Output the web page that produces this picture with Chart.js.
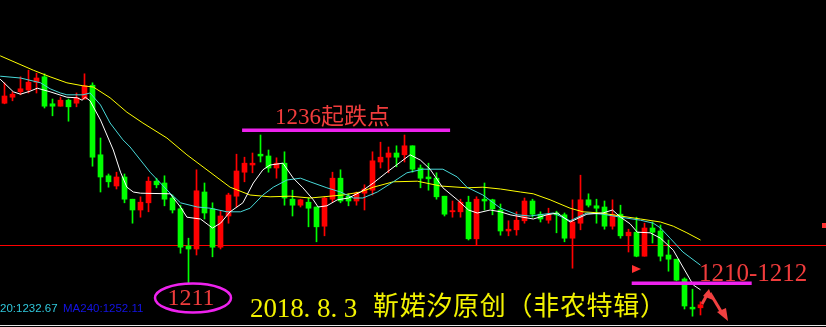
<!DOCTYPE html>
<html>
<head>
<meta charset="utf-8">
<script src="https://cdn.jsdelivr.net/npm/chart.js@4"></script>
<style>
  html, body { margin: 0; padding: 0; background: #000; }
  canvas { display: block; }
</style>
</head>
<body>
<canvas id="kline" width="826" height="327"></canvas>
<script>
    // candles, oldest first (red = up, green = down)
    const opens = [1240.8,1241.8,1242.7,1243.0,1244.3,1245.2,1240.7,1240.3,1241.3,1240.8,
      1241.5,1243.8,1232.2,1228.7,1227.0,1228.5,1224.8,1223.0,1224.2,1227.8,
      1227.5,1225.0,1223.2,1217.0,1216.5,1226.0,1223.2,1216.8,1222.0,1225.3,
      1229.3,1230.5,1232.3,1232.0,1230.0,1230.8,1224.8,1223.8,1224.3,1223.5,
      1220.3,1224.8,1228.3,1225.3,1224.5,1225.8,1226.3,1231.0,1231.8,1232.5,
      1232.2,1233.7,1230.0,1228.5,1228.3,1225.3,1222.7,1222.7,1224.3,1218.2,
      1224.8,1224.7,1223.0,1219.5,1219.7,1221.2,1224.5,1222.3,1221.3,1222.5,
      1222.2,1218.3,1220.8,1224.7,1223.7,1223.5,1220.3,1222.3,1218.7,1219.3,
      1215.3,1220.0,1219.5,1215.5,1214.8,1211.5,1206.8,1206.7];
    const highs = [1244.2,1242.7,1245.2,1246.3,1245.8,1245.7,1241.5,1241.8,1241.5,1242.5,
      1245.7,1244.2,1235.0,1229.0,1229.3,1229.0,1224.8,1225.2,1228.5,1228.3,
      1228.7,1225.5,1223.8,1218.3,1229.7,1227.5,1224.2,1222.8,1225.8,1232.3,
      1231.8,1232.5,1235.5,1233.0,1231.7,1232.7,1226.3,1224.8,1225.0,1223.5,
      1225.2,1229.3,1229.7,1225.7,1226.0,1227.2,1232.7,1234.3,1233.5,1233.7,
      1235.5,1233.7,1230.5,1230.8,1229.2,1225.3,1224.5,1224.8,1225.3,1225.2,
      1227.5,1224.8,1224.0,1221.2,1222.7,1225.0,1224.8,1222.7,1223.3,1222.8,
      1222.5,1224.7,1228.8,1225.7,1224.8,1224.5,1224.7,1223.8,1219.8,1221.8,
      1220.8,1221.0,1220.5,1218.0,1214.8,1211.7,1209.8,1207.7];
    const lows = [1240.7,1241.2,1242.2,1242.5,1242.5,1240.0,1238.7,1240.3,1237.8,1240.2,
      1241.5,1230.3,1226.0,1226.8,1226.5,1224.2,1220.8,1221.8,1222.7,1226.7,
      1223.7,1222.5,1215.8,1210.8,1215.5,1221.5,1215.2,1216.5,1220.8,1223.5,
      1227.7,1229.2,1231.0,1229.3,1228.3,1223.8,1222.0,1223.5,1220.2,1217.7,
      1218.7,1224.3,1224.2,1223.7,1223.8,1223.0,1225.5,1230.0,1229.2,1230.2,
      1231.0,1229.3,1226.7,1226.3,1224.8,1222.0,1221.8,1221.8,1218.0,1217.2,
      1223.0,1222.2,1218.8,1218.7,1218.8,1220.8,1221.8,1221.0,1220.8,1219.2,
      1217.7,1213.3,1219.7,1223.5,1220.8,1219.8,1219.8,1218.3,1216.0,1215.2,
      1215.3,1217.5,1214.5,1212.8,1211.2,1206.5,1205.3,1205.5];
    const closes = [1242.0,1242.3,1243.2,1244.3,1245.0,1240.3,1240.3,1241.3,1240.2,1241.7,
      1243.7,1231.8,1228.5,1227.7,1228.5,1224.8,1223.0,1224.3,1227.8,1227.2,
      1224.8,1223.0,1216.8,1216.5,1226.2,1222.5,1216.8,1222.0,1225.5,1229.5,
      1230.8,1230.8,1232.0,1230.0,1230.8,1225.0,1223.8,1224.7,1223.3,1220.2,
      1225.0,1228.3,1224.5,1224.5,1225.8,1226.5,1231.2,1231.8,1232.5,1231.8,
      1233.7,1229.8,1228.3,1228.2,1225.2,1222.3,1222.9,1224.3,1218.2,1224.8,
      1224.5,1223.2,1219.5,1219.8,1221.3,1224.5,1222.3,1221.5,1222.2,1222.2,
      1218.3,1221.0,1224.7,1223.8,1223.3,1220.3,1222.3,1218.7,1219.3,1215.3,
      1220.0,1219.3,1215.3,1214.8,1211.3,1207.0,1206.5,1207.2];

    // moving averages (position in candles, price)
    const maFastX = [-0.54,1.1,2.0,3.2,4.1,5.7,7.8,9.1,9.7,10.1,10.7,12.0,13.6,14.5,15.3,16.1,17.0,20.7,22.0,22.8,
      24.5,26.0,27.0,28.2,29.8,31.1,32.3,33.2,34.8,36.1,37.3,38.6,39.2,40.3,41.6,43.0,44.5,46.1,47.8,49.5,
      50.7,52.0,53.2,54.8,56.6,58.0,59.1,60.7,62.0,63.2,64.8,66.1,67.8,69.1,70.7,72.8,74.8,76.0,77.0,78.2,
      79.1,80.7,82.0,83.6,84.8,86.1,87.0];
    const maFastY = [1244.8,1242.7,1242.3,1242.8,1243.3,1242.7,1241.8,1241.7,1241.3,1241.8,1241.2,1238.0,1233.0,1229.3,1226.8,1226.0,1225.8,1225.7,1223.5,1221.8,
      1221.5,1220.0,1220.8,1222.7,1224.2,1227.5,1229.7,1230.5,1230.8,1228.3,1226.7,1224.7,1223.5,1223.7,1224.7,1225.0,1226.0,1227.5,1229.3,1231.0,
      1232.2,1231.3,1229.8,1226.7,1224.7,1223.0,1222.5,1223.0,1222.7,1222.2,1221.8,1221.5,1222.2,1222.5,1221.0,1222.3,1222.5,1223.0,1221.8,1220.7,
      1219.3,1219.2,1218.3,1216.3,1213.5,1210.5,1209.7];
    const maMidX = [-0.54,2.0,4.5,5.7,7.0,7.8,9.8,10.7,12.0,13.2,14.8,15.7,18.2,20.7,22.0,24.1,25.7,27.8,29.5,30.7,
      32.3,33.6,35.3,37.0,38.2,40.3,42.0,43.6,44.8,46.6,48.6,50.3,52.3,54.8,56.6,57.8,59.8,62.0,64.1,65.7,
      68.6,70.7,72.8,74.8,77.0,79.5,81.1,82.0,83.2,84.8,87.0];
    const maMidY = [1245.3,1245.0,1244.2,1243.2,1242.5,1242.2,1242.2,1242.5,1240.5,1237.5,1234.7,1233.5,1229.3,1225.8,1224.2,1223.5,1223.3,1222.7,1222.7,1223.3,
      1225.5,1226.8,1228.0,1228.3,1227.7,1226.7,1226.0,1225.0,1225.0,1226.0,1227.7,1229.2,1229.8,1229.8,1228.5,1226.8,1225.5,1223.3,1222.2,1222.0,
      1222.5,1221.2,1222.5,1222.3,1221.8,1221.3,1220.8,1220.0,1218.3,1216.0,1213.8];
    const maSlowX = [-0.54,3.6,5.7,7.8,9.8,11.1,13.2,15.3,17.3,20.3,22.8,25.7,28.2,30.7,33.2,35.7,38.2,42.3,44.5,46.1,
      48.6,51.6,54.5,57.8,59.8,62.0,64.5,66.1,68.2,70.7,72.3,74.5,77.0,79.5,82.0,83.6,85.3,87.0];
    const maSlowY = [1248.7,1246.3,1245.2,1244.2,1243.7,1243.5,1241.7,1239.3,1237.5,1235.0,1232.2,1229.3,1226.8,1225.5,1225.2,1225.3,1225.0,1225.5,1226.0,1226.8,
      1227.7,1227.8,1227.0,1226.7,1226.8,1226.5,1226.0,1225.7,1224.7,1223.3,1222.7,1222.5,1222.0,1221.5,1221.0,1220.3,1219.2,1218.0];

    // marked price levels
    const levelRed = 1217.1;
    const levelStart = 1236.3;   // 1236 起跌点
    const levelTarget = 1210.8;  // 1210-1212

    const UP = '#ff0000';
    const DOWN = '#00ff00';
    const candleColors = opens.map((o, i) => closes[i] >= o ? UP : DOWN);

    function pairs(xs, ys) {
      return xs.map((x, i) => ({ x: x, y: ys[i] }));
    }

    function spaced(ctx, text, x, y, pitch) {
      for (let i = 0; i < text.length; i++) ctx.fillText(text[i], x + i * pitch, y);
    }

    const marks = {
      id: 'marks',
      beforeDatasetsDraw(chart) {
        const ctx = chart.ctx;
        const ys = chart.scales.y;
        ctx.save();
        // level line and bottom frame as solid 1px rows
        ctx.fillStyle = '#ff0000';
        ctx.fillRect(0, Math.floor(ys.getPixelForValue(levelRed)), 826, 1);
        ctx.fillStyle = '#e6e6e6';
        ctx.fillRect(0, 325, 826, 1);
        ctx.restore();
      },
      afterDatasetsDraw(chart) {
        const ctx = chart.ctx;
        const xs = chart.scales.x, ys = chart.scales.y;
        ctx.save();

        // magenta level lines
        ctx.strokeStyle = '#ee22ee';
        ctx.lineWidth = 3.5;
        let y = ys.getPixelForValue(levelStart);
        ctx.beginPath(); ctx.moveTo(xs.getPixelForValue(29.7), y); ctx.lineTo(xs.getPixelForValue(55.7), y); ctx.stroke();
        y = ys.getPixelForValue(levelTarget);
        ctx.beginPath(); ctx.moveTo(xs.getPixelForValue(78.4), y); ctx.lineTo(xs.getPixelForValue(93.4), y); ctx.stroke();

        // ellipse round the low
        ctx.lineWidth = 2.5;
        ctx.beginPath(); ctx.ellipse(193, 298, 38, 14.5, 0, 0, Math.PI * 2); ctx.stroke();

        // red labels
        ctx.fillStyle = '#f03c3c';
        ctx.textBaseline = 'alphabetic';
        ctx.font = '23px "Liberation Serif", "Noto Sans CJK SC"';
        ctx.fillText('1236起跌点', 275, 124);
        ctx.textAlign = 'center';
        ctx.font = '24px "Liberation Serif"';
        ctx.fillText('1211', 191, 305);
        ctx.textAlign = 'left';
        ctx.font = '25px "Liberation Serif"';
        ctx.fillText('1210-1212', 699, 281);

        // small triangle marker
        ctx.fillStyle = '#ff3030';
        ctx.beginPath(); ctx.moveTo(632, 265); ctx.lineTo(641, 269); ctx.lineTo(632, 273); ctx.closePath(); ctx.fill();
        ctx.fillRect(822, 223, 4, 5);

        // zigzag arrows
        ctx.strokeStyle = '#f04040';
        ctx.fillStyle = '#f04040';
        ctx.lineWidth = 3;
        ctx.beginPath(); ctx.moveTo(702, 304); ctx.lineTo(708, 293); ctx.stroke();
        ctx.beginPath(); ctx.moveTo(709, 289); ctx.lineTo(713, 300); ctx.lineTo(703, 296); ctx.closePath(); ctx.fill();
        ctx.beginPath(); ctx.moveTo(710, 293); ctx.lineTo(722, 313); ctx.stroke();
        ctx.beginPath(); ctx.moveTo(728, 321); ctx.lineTo(717, 312); ctx.lineTo(726, 308); ctx.closePath(); ctx.fill();

        // title
        ctx.fillStyle = '#f2f200';
        ctx.font = '27px "Liberation Serif"';
        spaced(ctx, '2018.8.3', 250, 317, 13.4);
        ctx.font = '26px "Noto Sans CJK SC"';
        spaced(ctx, '靳婼汐原创（非农特辑）', 373, 315, 26.7);

        // MA readouts
        ctx.font = '11.5px "Liberation Sans"';
        ctx.fillStyle = '#30c8dc';
        ctx.fillText('20:1232.67', 0, 312);
        ctx.fillStyle = '#1414e6';
        ctx.fillText('MA240:1252.11', 63, 312);

        ctx.restore();
      }
    };

    const candleIndex = opens.map((_, i) => i);

    const klineChart = new Chart(document.getElementById('kline'), {
      type: 'bar',
      data: {
        datasets: [
          {
            type: 'line', label: 'MA fast', data: pairs(maFastX, maFastY),
            borderColor: '#ffffff', borderWidth: 1, pointRadius: 0, tension: 0, order: 0
          },
          {
            type: 'line', label: 'MA mid', data: pairs(maMidX, maMidY),
            borderColor: '#48d8d8', borderWidth: 1, pointRadius: 0, tension: 0, order: 0
          },
          {
            type: 'line', label: 'MA slow', data: pairs(maSlowX, maSlowY),
            borderColor: '#ffff00', borderWidth: 1, pointRadius: 0, tension: 0, order: 0
          },
          {
            label: 'body',
            data: candleIndex.map(i => ({ x: i, y: [opens[i], closes[i]] })),
            backgroundColor: candleColors, barThickness: 5, grouped: false, order: 1
          },
          {
            label: 'wick',
            data: candleIndex.map(i => ({ x: i, y: [lows[i], highs[i]] })),
            backgroundColor: candleColors, barThickness: 1, grouped: false, order: 2
          }
        ]
      },
      options: {
        responsive: false,
        animation: false,
        layout: { padding: 0 },
        plugins: { legend: { display: false }, tooltip: { enabled: false } },
        scales: {
          x: { type: 'linear', offset: false, bounds: 'ticks', min: -0.5625, max: 102.6875, display: false },
          y: { min: 1203.5, max: 1258, display: false }
        }
      },
      plugins: [marks]
    });
</script>
</body>
</html>
